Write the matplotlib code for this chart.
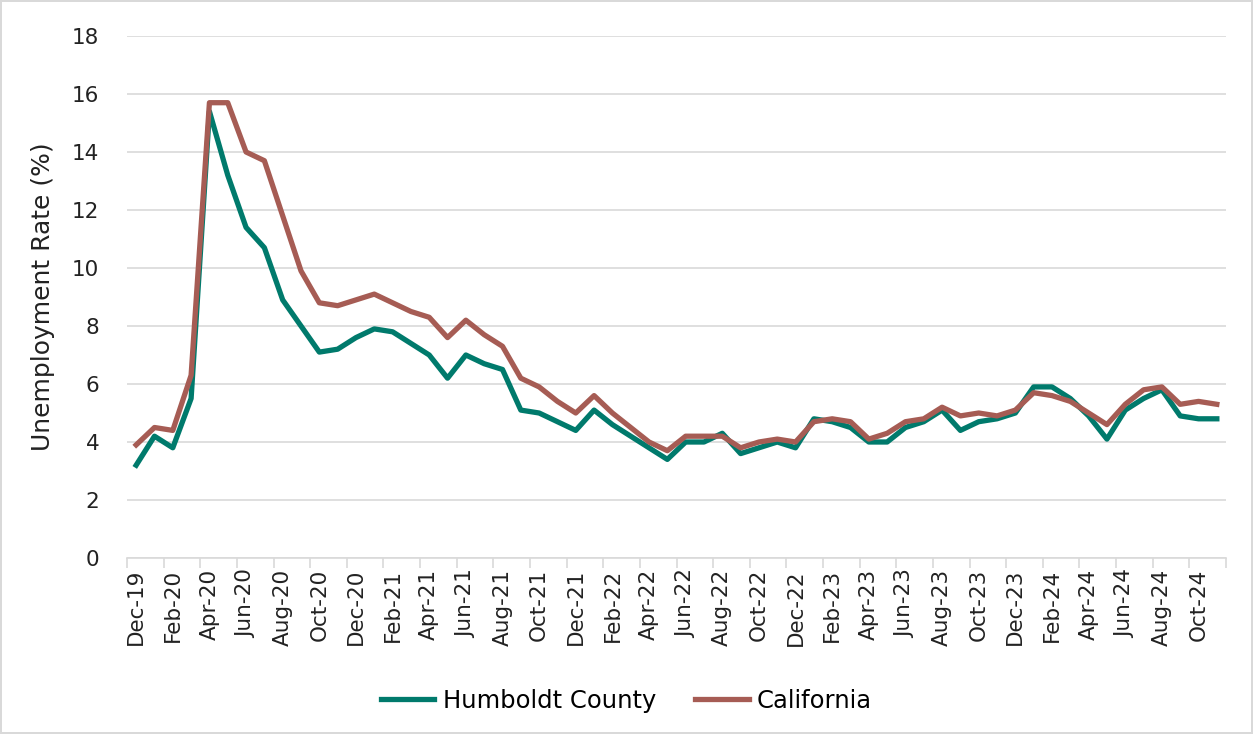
import numpy as np
import matplotlib
matplotlib.use("Agg")
import matplotlib.pyplot as plt

# monthly unemployment rate, Dec-19 .. Nov-24
months = ["Dec-19", "Jan-20", "Feb-20", "Mar-20", "Apr-20", "May-20", "Jun-20", "Jul-20",
          "Aug-20", "Sep-20", "Oct-20", "Nov-20", "Dec-20", "Jan-21", "Feb-21", "Mar-21",
          "Apr-21", "May-21", "Jun-21", "Jul-21", "Aug-21", "Sep-21", "Oct-21", "Nov-21",
          "Dec-21", "Jan-22", "Feb-22", "Mar-22", "Apr-22", "May-22", "Jun-22", "Jul-22",
          "Aug-22", "Sep-22", "Oct-22", "Nov-22", "Dec-22", "Jan-23", "Feb-23", "Mar-23",
          "Apr-23", "May-23", "Jun-23", "Jul-23", "Aug-23", "Sep-23", "Oct-23", "Nov-23",
          "Dec-23", "Jan-24", "Feb-24", "Mar-24", "Apr-24", "May-24", "Jun-24", "Jul-24",
          "Aug-24", "Sep-24", "Oct-24", "Nov-24"]

humboldt = [3.2, 4.2, 3.8, 5.5, 15.4, 13.2, 11.4, 10.7, 8.9, 8.0, 7.1, 7.2,
            7.6, 7.9, 7.8, 7.4, 7.0, 6.2, 7.0, 6.7, 6.5, 5.1, 5.0, 4.7,
            4.4, 5.1, 4.6, 4.2, 3.8, 3.4, 4.0, 4.0, 4.3, 3.6, 3.8, 4.0,
            3.8, 4.8, 4.7, 4.5, 4.0, 4.0, 4.5, 4.7, 5.1, 4.4, 4.7, 4.8,
            5.0, 5.9, 5.9, 5.5, 4.9, 4.1, 5.1, 5.5, 5.8, 4.9, 4.8, 4.8]

california = [3.9, 4.5, 4.4, 6.3, 15.7, 15.7, 14.0, 13.7, 11.8, 9.9, 8.8, 8.7,
              8.9, 9.1, 8.8, 8.5, 8.3, 7.6, 8.2, 7.7, 7.3, 6.2, 5.9, 5.4,
              5.0, 5.6, 5.0, 4.5, 4.0, 3.7, 4.2, 4.2, 4.2, 3.8, 4.0, 4.1,
              4.0, 4.7, 4.8, 4.7, 4.1, 4.3, 4.7, 4.8, 5.2, 4.9, 5.0, 4.9,
              5.1, 5.7, 5.6, 5.4, 5.0, 4.6, 5.3, 5.8, 5.9, 5.3, 5.4, 5.3]

plt.rcParams['font.family'] = ['DejaVu Sans']

fig = plt.figure(figsize=(12.53, 7.34), dpi=100)
fig.patch.set_edgecolor('#d9d9d9')
fig.patch.set_linewidth(1.5)
ax = fig.add_axes([127 / 1253, 1 - 558 / 734, (1226 - 127) / 1253, (558 - 36) / 734])

x = np.arange(len(months))
ax.plot(x, humboldt, color='#007a6c', lw=3.8, label='Humboldt County', solid_joinstyle='round')
ax.plot(x, california, color='#a65c54', lw=3.8, label='California', solid_joinstyle='round')

ax.set_xlim(-0.5, len(months) - 0.5)
ax.set_ylim(0, 18)
ax.set_yticks(np.arange(0, 19, 2))
ax.grid(axis='y', color='#d9d9d9', lw=1.2)
ax.set_axisbelow(True)
ax.tick_params(axis='y', length=0, pad=20, labelsize=15.5, colors='#222222')

ax.set_xticks(x[::2])
ax.set_xticklabels(months[::2], rotation=90)
ax.set_xticks(np.arange(-0.5, len(months), 2), minor=True)
ax.tick_params(axis='x', which='major', length=0, pad=8, labelsize=15.5, colors='#222222')
ax.tick_params(axis='x', which='minor', length=7, color='#d9d9d9', width=1.2)

for s in ['top', 'right', 'left']:
    ax.spines[s].set_visible(False)
ax.spines['bottom'].set_color('#d9d9d9')
ax.spines['bottom'].set_linewidth(1.2)

ax.set_ylabel('Unemployment Rate (%)', fontsize=18, color='#222222', labelpad=12)

fig.legend(loc='center', bbox_to_anchor=(0.5, 1 - 701 / 734), ncol=2, frameon=False,
           fontsize=17.5, handlelength=2.2, handletextpad=0.35, columnspacing=1.6)

fig.savefig('out.png', dpi=100)
